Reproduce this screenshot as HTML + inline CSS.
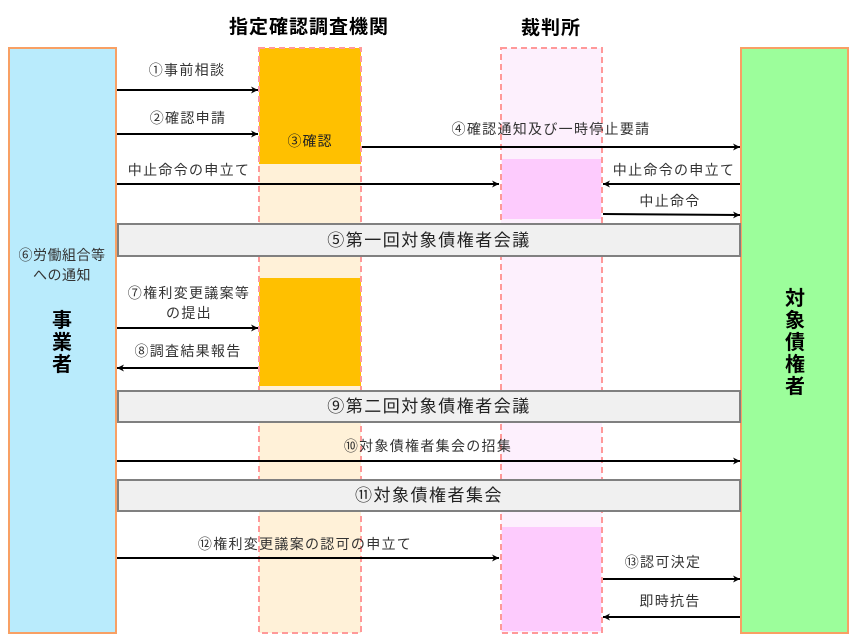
<!DOCTYPE html>
<html><head><meta charset="utf-8"><style>
html,body{margin:0;padding:0;background:#fff;}
svg{display:block;font-family:"Liberation Sans","Noto Sans CJK JP",sans-serif;}
</style></head><body>
<svg width="859" height="642" viewBox="0 0 859 642" xmlns="http://www.w3.org/2000/svg">
<defs>
<marker id="a" markerWidth="8" markerHeight="8" refX="7" refY="4" orient="auto" markerUnits="userSpaceOnUse">
<path d="M0,0.5 L7,4 L0,7.5 L2,4 Z" fill="#000"/></marker>
</defs>
<!-- titles -->
<text x="309" y="33" font-size="19" font-weight="bold" text-anchor="middle" letter-spacing="1">指定確認調査機関</text>
<text x="551" y="34" font-size="19" font-weight="bold" text-anchor="middle" letter-spacing="1">裁判所</text>
<!-- left actor -->
<rect x="9" y="48" width="107" height="585" fill="#b9ebfc" stroke="#f8a064" stroke-width="2"/>
<g font-size="14" text-anchor="middle" fill="#333" letter-spacing="0.5">
<text x="62" y="260">⑥労働組合等</text>
<text x="62" y="280">への通知</text>
</g>
<g font-size="20" font-weight="bold" text-anchor="middle">
<text x="62" y="327">事</text>
<text x="62" y="349">業</text>
<text x="62" y="371">者</text>
<text x="795" y="305">対</text>
<text x="795" y="327">象</text>
<text x="795" y="349">債</text>
<text x="795" y="371">権</text>
<text x="795" y="393">者</text>
</g>
<!-- right actor -->
<rect x="741" y="48" width="107" height="585" fill="#9cfe9b" stroke="#f8a064" stroke-width="2"/>
<g font-size="20" font-weight="bold" text-anchor="middle">
<text x="795" y="305">対</text>
<text x="795" y="327">象</text>
<text x="795" y="349">債</text>
<text x="795" y="371">権</text>
<text x="795" y="393">者</text>
</g>
<!-- lane 1 -->
<rect x="259" y="48" width="102" height="585" fill="#fff1d8"/>
<rect x="259" y="48" width="102" height="116" fill="#ffc000"/>
<rect x="259" y="278" width="102" height="108" fill="#ffc000"/>
<rect x="259" y="48" width="102" height="585" fill="none" stroke="#ff9999" stroke-width="2" stroke-dasharray="6,4"/>
<text x="310" y="146" font-size="14" text-anchor="middle" fill="#222" letter-spacing="1">③確認</text>
<!-- lane 2 -->
<rect x="501" y="48" width="101" height="585" fill="#fdf0fd"/>
<rect x="502" y="159" width="99" height="60" fill="#fdcbfd"/>
<rect x="502" y="527" width="99" height="104" fill="#fdcbfd"/>
<rect x="501" y="48" width="101" height="585" fill="none" stroke="#ff9999" stroke-width="2" stroke-dasharray="6,4"/>
<!-- bars -->
<g fill="#f0f0f0" stroke="#808080" stroke-width="2">
<rect x="118" y="224" width="622" height="32"/>
<rect x="118" y="391" width="622" height="31"/>
<rect x="118" y="480" width="622" height="31"/>
</g>
<g font-size="17" text-anchor="middle" fill="#222" letter-spacing="1.5">
<text x="429" y="246">⑤第一回対象債権者会議</text>
<text x="429" y="412">⑨第二回対象債権者会議</text>
<text x="429" y="501">⑪対象債権者集会</text>
</g>
<!-- arrows -->
<g stroke="#000" stroke-width="2" marker-end="url(#a)">
<line x1="117" y1="90" x2="258" y2="90"/>
<line x1="117" y1="134" x2="258" y2="134"/>
<line x1="362" y1="147" x2="740" y2="147"/>
<line x1="117" y1="184" x2="499" y2="184"/>
<line x1="740" y1="184" x2="603" y2="184"/>
<line x1="603" y1="214" x2="740" y2="215"/>
<line x1="117" y1="328" x2="258" y2="328"/>
<line x1="258" y1="368" x2="117" y2="368"/>
<line x1="117" y1="461" x2="740" y2="461"/>
<line x1="117" y1="558" x2="499" y2="558"/>
<line x1="603" y1="579" x2="740" y2="579"/>
<line x1="740" y1="617" x2="603" y2="617"/>
</g>
<g font-size="14" fill="#333" text-anchor="middle" letter-spacing="1.3">
<text x="187" y="75">①事前相談</text>
<text x="188" y="123">②確認申請</text>
<text x="189" y="175">中止命令の申立て</text>
<text x="551" y="134">④確認通知及び一時停止要請</text>
<text x="674" y="175">中止命令の申立て</text>
<text x="670" y="206">中止命令</text>
<text x="189" y="298">⑦権利変更議案等</text>
<text x="189" y="318">の提出</text>
<text x="188" y="356">⑧調査結果報告</text>
<text x="428" y="451">⑩対象債権者集会の招集</text>
<text x="305" y="549">⑫権利変更議案の認可の申立て</text>
<text x="663" y="567">⑬認可決定</text>
<text x="670" y="606">即時抗告</text>
</g>
</svg>
</body></html>
